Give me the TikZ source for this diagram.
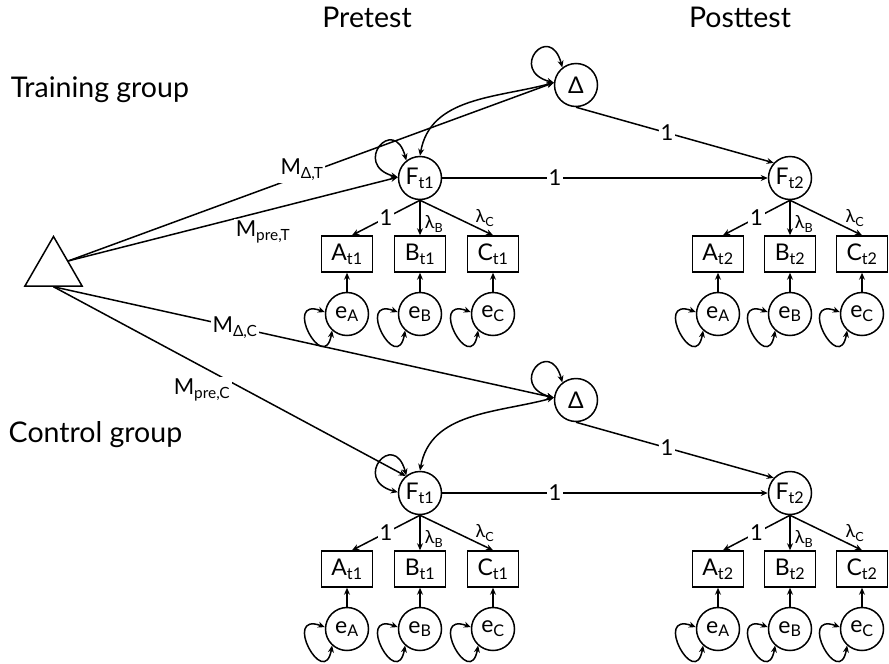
\documentclass[tikz,border=0pt]{standalone}
\usepackage{fontspec}
\setmainfont{Lato}
\usetikzlibrary{arrows.meta,shapes.geometric}
\tikzset{
  lat/.style={circle,draw,minimum size=43pt,inner sep=0pt,font=\fontsize{23}{26}\selectfont},
  obs/.style={rectangle,draw,minimum width=51pt,minimum height=36pt,inner sep=0pt,font=\fontsize{23}{26}\selectfont},
  arr/.style={-{Stealth[length=7pt,width=6pt]}},
  darr/.style={{Stealth[length=7pt,width=6pt]}-{Stealth[length=7pt,width=6pt]}},
  lbl/.style={fill=white,inner sep=2pt,font=\fontsize{22}{25}\selectfont},
  sm/.style={inner sep=1pt,font=\fontsize{18}{20}\selectfont},
  ttl/.style={inner sep=0pt,font=\fontsize{28.5}{32}\selectfont}
}
\newcommand\vloop[2]{\draw[darr] (#1.#2) .. controls +(165:48) and +(105:48) .. (#1.128);}
\newcommand\eloop[1]{\draw[darr] (#1.175) .. controls +(160:46) and +(260:46) .. (#1.228);}
\newcommand\grp[2]{%
\begin{scope}[yshift=-#2pt]
  \node[lat] (D#1) at (576,-85) {Δ};
  \node[lat] (Fa#1) at (420,-178) {F\textsubscript{t1}};
  \node[lat] (Fb#1) at (790,-178) {F\textsubscript{t2}};
  \foreach \nm/\xa/\xb in {A/347/718,B/420/790,C/493/862}{
    \node[obs] (\nm a#1) at (\xa,-254) {\nm\textsubscript{t1}};
    \node[obs] (\nm b#1) at (\xb,-254) {\nm\textsubscript{t2}};
    \node[lat] (e\nm a#1) at (\xa,-314) {e\textsubscript{\nm}};
    \node[lat] (e\nm b#1) at (\xb,-314) {e\textsubscript{\nm}};
    \draw[arr] (e\nm a#1) -- (\nm a#1);
    \draw[arr] (e\nm b#1) -- (\nm b#1);
    \eloop{e\nm a#1}
    \eloop{e\nm b#1}
  }
  \draw[arr] (Fa#1.south) -- node[lbl]{1} (Aa#1.75);
  \draw[arr] (Fa#1.south) -- (Ba#1.north);
  \draw[arr] (Fa#1.south) -- (Ca#1.north);
  \node[sm] at (434,-224) {λ\textsubscript{B}};
  \node[sm] at (485,-218) {λ\textsubscript{C}};
  \draw[arr] (Fb#1.south) -- node[lbl]{1} (Ab#1.75);
  \draw[arr] (Fb#1.south) -- (Bb#1.north);
  \draw[arr] (Fb#1.south) -- (Cb#1.north);
  \node[sm] at (804,-224) {λ\textsubscript{B}};
  \node[sm] at (855,-218) {λ\textsubscript{C}};
  \draw[arr] (Fa#1) -- (Fb#1);
  \node[lbl] at (555,-178) {1};
  \draw[arr] (D#1.south) -- node[lbl,pos=0.46]{1} (Fb#1.137);
  \vloop{D#1}{174}
  \draw[darr] (Fa#1.north) to[out=80,in=195] (D#1.174);
\end{scope}}
\begin{document}
\begin{tikzpicture}[x=1pt,y=1pt,line width=1.5pt]
\path[fill=white,use as bounding box] (0,0) rectangle (889,-664);
\node[ttl,anchor=base] (pre) at (367,-27) {Pretest};
\node[ttl,anchor=base] (post) at (740,-27) {Posttest};
\node[ttl,anchor=base west] (tg) at (10,-97) {Training group};
\node[ttl,anchor=base west] (cg) at (8,-442) {Control group};
\node[draw,regular polygon,regular polygon sides=3,minimum size=66pt,inner sep=0pt] (tri) at (53.5,-269.5) {};
\grp{T}{0}
\grp{C}{315}
\vloop{FaT}{178}
\vloop{FaC}{178}
\draw[arr] (tri.side 3) -- (DT.174);
\node[lbl] at (302,-170) {M\textsubscript{Δ,T}};
\draw[arr] (tri.side 3) -- (FaT.178);
\node[lbl] at (263,-232) {M\textsubscript{pre,T}};
\draw[arr] (tri.side 2) -- (DC.174);
\node[lbl] at (235,-328) {M\textsubscript{Δ,C}};
\draw[arr] (tri.side 2) -- (FaC.130);
\node[lbl] at (202,-390) {M\textsubscript{pre,C}};
\end{tikzpicture}
\end{document}
